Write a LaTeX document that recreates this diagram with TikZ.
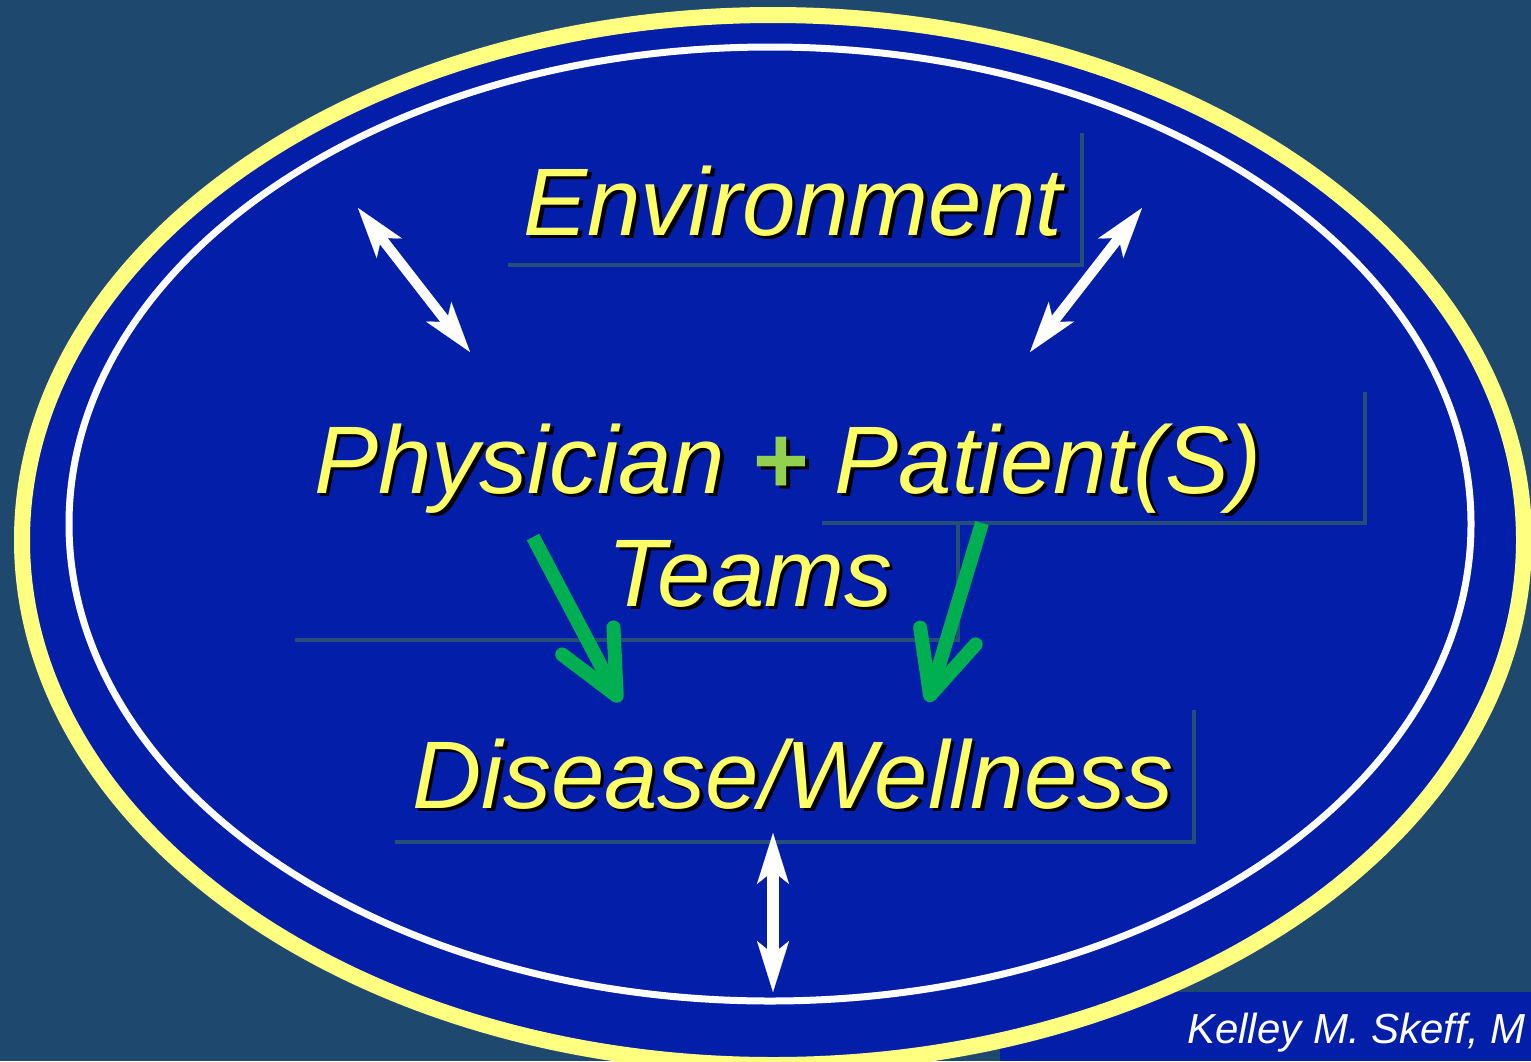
\documentclass[tikz,border=0pt]{standalone}
\usepackage{fontspec}
\setmainfont{Liberation Sans}
\usetikzlibrary{arrows.meta,calc}
\definecolor{bgslate}{RGB}{31,72,110}
\definecolor{ovalblue}{RGB}{3,30,168}
\definecolor{ovalyellow}{RGB}{255,255,128}
\definecolor{txtyellow}{RGB}{255,255,102}
\definecolor{plusgreen}{RGB}{146,208,80}
\definecolor{arrowgreen}{RGB}{0,176,80}
\definecolor{boxedge}{RGB}{38,78,120}
\tikzset{
  txt/.style={inner sep=0pt, anchor=base, text=txtyellow, font=\fontsize{96}{110}\selectfont\itshape},
  txtshadow/.style={txt, text=black},
  boxline/.style={draw=boxedge, line width=4pt},
  whitearrow/.style={white, line width=10pt,
    {Stealth[length=51pt,width=32pt,inset=13pt,line width=0.1pt]}-{Stealth[length=51pt,width=32pt,inset=13pt,line width=0.1pt]}},
  greenarrow/.style={arrowgreen, line width=14pt,
    -{Straight Barb[length=62pt,width=58pt,round]}},
}
\newcommand\shlabel[3]{%
  \node[txtshadow] at ($#2+(3.5,3.5)$) {\let\pluscol\relax#3};
  \node[txt] (#1) at #2 {#3};}
\newcommand\pluscol{\color{plusgreen}}
\begin{document}
\begin{tikzpicture}[x=1pt,y=-1pt]
\useasboundingbox (0,0) rectangle (1531,1061);
\fill[bgslate] (0,0) rectangle (1531,1061);
% credit box
\fill[ovalblue] (1000,992) rectangle (1531,1061);
% oval
\filldraw[fill=ovalblue, draw=ovalyellow, line width=16pt] (773,540) ellipse [x radius=751pt, y radius=525pt];
\draw[white, line width=7pt] (770,524) ellipse [x radius=701pt, y radius=477pt];
% text box edges
\coordinate (eTR) at (1082,133); \coordinate (eBR) at (1082,265); \coordinate (eBL) at (508,265);
\coordinate (pTR) at (1365,392); \coordinate (pBR) at (1365,523); \coordinate (pBL) at (822,523);
\coordinate (tTR) at (958,523);  \coordinate (tBR) at (958,640);  \coordinate (tBL) at (295,640);
\coordinate (dTR) at (1194,710); \coordinate (dBR) at (1194,842); \coordinate (dBL) at (395,842);
\draw[boxline] (eTR) -- (eBR) -- (eBL);
\draw[boxline] (pTR) -- (pBR) -- (pBL);
\draw[boxline] (tTR) -- (tBR) -- (tBL);
\draw[boxline] (dTR) -- (dBR) -- (dBL);
% labels
\shlabel{env}{(793,235)}{Environment}
\shlabel{phys}{(788,493)}{Physician {\bfseries\pluscol+} Patient(S)}
\shlabel{teams}{(750,606)}{Teams}
\shlabel{dis}{(793,808)}{Disease/Wellness}
% white arrows
\coordinate (wl1) at (358,208); \coordinate (wl2) at (470,352);
\coordinate (wr1) at (1142,208); \coordinate (wr2) at (1030,352);
\coordinate (wb1) at (773,833); \coordinate (wb2) at (773,992);
\draw[whitearrow] (wl1) -- (wl2);
\draw[whitearrow] (wr1) -- (wr2);
\draw[whitearrow, line width=12pt] (wb1) -- (wb2);
% green arrows
\coordinate (gl1) at (533,537); \coordinate (gl2) at (620,702);
\coordinate (gr1) at (982,523); \coordinate (gr2) at (928,702);
\draw[greenarrow] (gl1) -- (gl2);
\draw[greenarrow] (gr1) -- (gr2);
% credit
\node[inner sep=0pt, anchor=base west, text=white, font=\fontsize{42}{50}\selectfont\itshape] (credit) at (1187,1043) {Kelley M. Skeff, M};
\end{tikzpicture}
\end{document}
